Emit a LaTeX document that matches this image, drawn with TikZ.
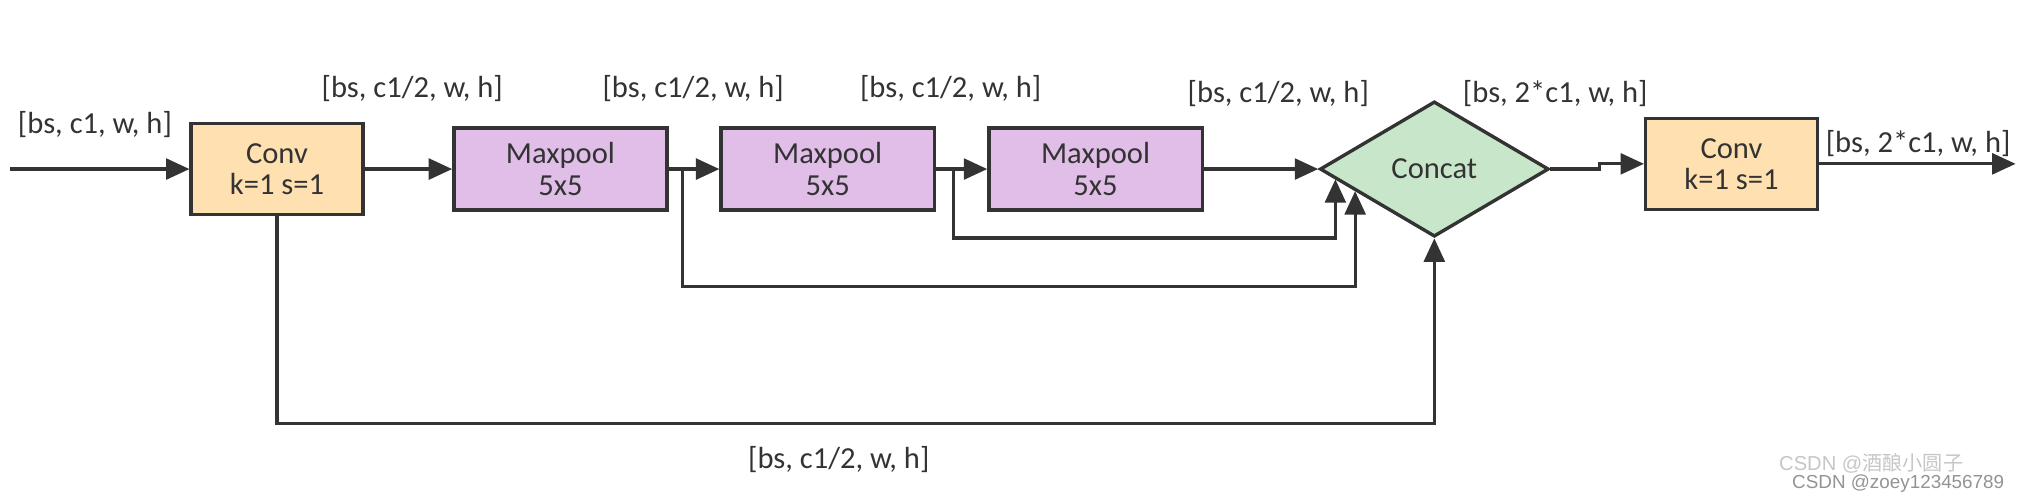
\documentclass[tikz,border=0pt]{standalone}
\usepackage{fontspec}
\setmainfont{Carlito}
\newfontfamily\cjk{Noto Sans CJK SC}
\newfontfamily\wmfont{Liberation Sans}
\usetikzlibrary{arrows.meta,shapes.geometric,calc}
\definecolor{convfill}{HTML}{FFE0B0}
\definecolor{poolfill}{HTML}{E1BEE7}
\definecolor{catfill}{HTML}{C8E6C9}
\definecolor{ln}{HTML}{333333}
\begin{document}
\begin{tikzpicture}[x=1pt,y=-1pt,
  every node/.style={font=\fontsize{23.5}{24}\selectfont, text=ln},
  blk/.style={draw=ln, line width=2.6pt, inner sep=0pt, align=center},
  conv/.style={blk, fill=convfill, minimum width=132pt, minimum height=70pt},
  pool/.style={blk, fill=poolfill, minimum width=164pt, minimum height=63pt},
  cat/.style={draw=ln, line width=2.6pt, fill=catfill, diamond, minimum width=176pt, minimum height=104pt, inner sep=0pt},
  conn/.style={draw=ln, line width=2.4pt},
  arr/.style={conn, -{Triangle[length=18pt,width=16pt]}},
  wm/.style={anchor=west, inner sep=0pt}]
\useasboundingbox (0,0) rectangle (1568,383);
% blocks
\node[conv] (c1) at (213,130) {Conv\\k=1 s=1};
\node[pool] (p1) at (431,130) {Maxpool\\5x5};
\node[pool] (p2) at (636.5,130) {Maxpool\\5x5};
\node[pool] (p3) at (842.5,130) {Maxpool\\5x5};
\node[cat] (cat) at (1103,130) {Concat};
\node[conv] (c2) at (1331.5,126) {Conv\\k=1 s=1};
% helper coordinates
\coordinate (in) at (8,130);
\coordinate (out) at (1550,126);
\coordinate (b1) at (525,130);
\coordinate (b2) at (733,130);
\coordinate (r1) at (525,220);
\coordinate (r2) at (733,183);
\coordinate (r3) at (213,326);
\coordinate (j1) at (1230,130);
\coordinate (j2) at (1230,126);
\coordinate (e1) at ($(cat.west)!0.148!(cat.south)$);
\coordinate (e2) at ($(cat.west)!0.318!(cat.south)$);
% connectors
\draw[arr] (in) -- (c1);
\draw[arr] (c1) -- (p1);
\draw[arr] (p1) -- (p2);
\draw[arr] (p2) -- (p3);
\draw[arr] (p3) -- (cat);
\draw[arr] (b2) -- (r2) -| (e1);
\draw[arr] (b1) -- (r1) -| (e2);
\draw[arr] (c1.south) -- (r3) -| (cat.south);
\draw[arr] (cat.east) -- (j1) -- (j2) -- (c2.west);
\draw[arr] (c2) -- (out);
% labels
\node (l0) at (73,96) {[bs, c1, w, h]};
\node (l1) at (317,68) {[bs, c1/2, w, h]};
\node (l2) at (533,68) {[bs, c1/2, w, h]};
\node (l3) at (731,68) {[bs, c1/2, w, h]};
\node (l4) at (983,72) {[bs, c1/2, w, h]};
\node (l5) at (1196,72) {[bs, 2*c1, w, h]};
\node (l6) at (1475,110) {[bs, 2*c1, w, h]};
\node (l7) at (645,353) {[bs, c1/2, w, h]};
% watermark
\node[wm, text=gray!45, font=\fontsize{15.5}{16}\selectfont] (wm1) at (1368,356) {\wmfont CSDN @\cjk 酒酿小圆子};
\node[wm, text=gray!85, font=\fontsize{14.5}{15}\selectfont] (wm2) at (1378,372) {\wmfont CSDN @zoey123456789};
\end{tikzpicture}
\end{document}
